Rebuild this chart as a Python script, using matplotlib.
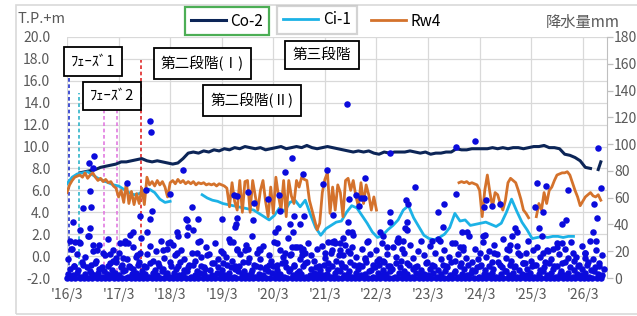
import numpy as np
import matplotlib
matplotlib.use("Agg")
import matplotlib.pyplot as plt
from matplotlib.patches import Rectangle

plt.rcParams['font.family'] = ['Noto Sans CJK JP', 'DejaVu Sans']

# ---- data ----
tick_years = [2016.17 + k for k in range(11)]
tick_labels = ["'16/3", "'17/3", "'18/3", "'19/3", "'20/3", "'21/3",
               "'22/3", "'23/3", "'24/3", "'25/3", "'26/3"]

# Co-2, sampled every 0.1 yr from 2016.42
co2_start = 2016.42
co2 = [7.6, 7.7, 7.8, 7.9, 8.1, 8.2, 8.3, 8.4, 8.6, 8.6, 8.7, 8.8, 8.9, 8.7, 8.6, 8.7,
       8.6, 8.5, 8.4, 8.5, 8.9, 9.4, 9.5, 9.4, 9.6, 9.5, 9.7, 9.6, 9.8, 9.7, 9.9, 9.8,
       10.0, 9.9, 9.8, 9.9, 9.7, 9.8, 9.9, 10.0, 9.8, 9.9, 10.0, 9.9, 10.1, 9.9, 9.8, 9.9,
       10.0, 9.9, 9.8, 9.7, 9.6, 9.5, 9.6, 9.5, 9.6, 9.4, 9.3, 9.5, 9.4, 9.5, 9.5, 9.5,
       9.6, 9.5, 9.4, 9.5, 9.3, 9.4, 9.4, 9.5, 9.5, 9.8, 9.7, 9.7, 9.8, 9.8, 9.8, 9.8,
       9.9, 9.8, 9.9, 9.8, 9.9, 9.9, 9.8, 9.9, 10.0, 10.0, 10.1, 9.9, 9.9, 9.8, 9.3, 9.2,
       9.0, 8.7, 8.1, 8.0]
co2_tail_t = [2026.47, 2026.52]
co2_tail = [7.9, 8.6]

# Ci-1, sampled every 0.1 yr, two segments
ci1_start_a = 2016.17
ci1_a = [6.6, 7.2, 7.5, 7.6, 7.7, 7.4, 7.1, 6.9, 6.7, 6.5, 6.4, 6.1, 5.8, 5.6, 5.7,
         6.0, 6.1, 5.8, 5.2, 4.9, 5.0]
ci1_start_b = 2018.79
ci1_b = [5.6, 5.3, 5.1, 5.0, 4.8, 4.7, 4.6, 4.5, 4.4, 4.3, 4.2, 3.9, 3.6, 3.3, 3.7,
         4.4, 4.1, 4.9, 5.1, 4.5, 5.1, 3.8, 2.6, 1.9, 2.5, 2.8, 3.1, 3.2, 4.0, 4.6,
         4.4, 3.7, 3.0, 2.2, 1.7, 1.9, 2.4, 2.8, 3.3, 4.2, 4.6, 3.5, 2.7, 1.9, 1.6,
         1.5, 1.7, 2.0, 2.6, 3.9, 3.2, 3.3, 2.8, 2.9, 3.0, 3.1, 2.9, 2.7, 3.0, 4.0,
         5.2, 4.1, 3.1, 2.4, 1.6, 1.7, 1.8, 1.7, 1.8, 1.8, 1.7, 1.8, 1.8]

# Rw4, sampled every 0.05 yr, three segments
rw4_start_a = 2016.17
rw4_a = [5.8, 6.5, 6.9, 7.2, 7.3, 7.4, 7.2, 7.6, 7.1, 7.4, 7.6, 7.2, 6.9, 7.1, 6.8, 7.0,
         6.7, 6.8, 6.4, 6.2, 5.4, 6.0, 4.9, 6.7, 4.8, 5.9, 4.7, 5.7, 4.8, 6.2, 4.7, 7.2,
         6.5, 6.8, 6.4, 6.9, 6.5, 6.8, 6.3, 5.4, 6.7, 6.9, 6.6, 7.0, 6.7, 6.9, 6.6, 6.8,
         6.6, 6.8, 6.5, 6.7, 6.6, 6.7, 6.5, 6.6, 6.5, 6.6, 6.4, 6.6, 6.5, 6.4, 6.2, 4.5,
         6.7, 5.0, 4.2, 6.9, 4.0, 6.8, 6.9, 4.0, 6.9, 5.5, 4.2, 6.0, 6.9, 5.0, 3.6, 6.3,
         3.9, 7.2, 5.5, 4.2, 6.9, 3.6, 6.9, 5.5, 4.8, 6.9, 6.3, 7.2, 7.0, 6.9, 5.1, 4.2,
         3.3, 2.4, 3.0, 5.8, 7.0, 7.6, 3.9, 6.3, 4.2, 6.5, 5.8, 3.6, 6.9, 7.1, 6.0, 6.9,
         5.5, 4.5, 6.7, 4.8, 6.5, 5.6, 4.2, 5.4, 4.2]
rw4_start_b = 2023.77
rw4_b = [6.7, 6.8, 6.7, 6.8, 6.6, 6.7, 6.6, 6.5, 6.0, 3.6, 6.0, 7.4, 5.8, 4.5, 5.8, 5.6,
         4.8, 4.2, 5.1, 6.7, 7.1, 6.9, 6.7, 6.0, 5.2, 4.2, 3.9, 3.5]
rw4_start_c = 2025.27
rw4_c = [3.6, 4.8, 4.2, 5.8, 4.8, 6.0, 6.3, 6.9, 7.4, 7.5, 7.6, 7.6, 7.7, 7.4, 6.7, 6.0,
         5.4, 4.6, 5.0, 5.4, 5.6, 5.8, 5.5, 5.4, 5.6, 5.1]

# rainfall (mm): low daily band, one value every 10 days from 2016.17
rain_low_start = 2016.17
rain_low = [
    0, 3, 7, 0, 2, 9, 0, 4, 6, 0, 1, 10, 0, 3, 8, 0, 5, 4, 0, 2, 11, 0, 4, 7, 0, 1, 5, 0, 3, 9, 0, 2, 6, 0, 4, 12,
    0, 2, 8, 0, 5, 6, 0, 1, 9, 0, 3, 7, 0, 4, 10, 0, 2, 5, 0, 3, 8, 0, 1, 11, 0, 4, 6, 0, 2, 9, 0, 5, 7, 0, 3, 4,
    0, 1, 9, 0, 4, 7, 0, 2, 12, 0, 3, 6, 0, 5, 8, 0, 1, 10, 0, 2, 5, 0, 4, 9, 0, 3, 7, 0, 1, 6, 0, 2, 11, 0, 4, 8,
    0, 3, 6, 0, 2, 10, 0, 4, 8, 0, 1, 7, 0, 5, 9, 0, 3, 5, 0, 2, 12, 0, 4, 6, 0, 1, 9, 0, 3, 8, 0, 2, 7, 0, 5, 10,
    0, 4, 9, 0, 2, 6, 0, 3, 11, 0, 1, 8, 0, 5, 7, 0, 2, 10, 0, 4, 5, 0, 3, 9, 0, 1, 12, 0, 2, 7, 0, 4, 8, 0, 3, 6,
    0, 2, 10, 0, 3, 7, 0, 1, 9, 0, 4, 6, 0, 5, 11, 0, 2, 8, 0, 3, 5, 0, 1, 10, 0, 4, 7, 0, 2, 9, 0, 3, 12, 0, 5, 6,
    0, 1, 8, 0, 4, 10, 0, 2, 6, 0, 3, 9, 0, 5, 7, 0, 1, 11, 0, 4, 8, 0, 2, 5, 0, 3, 10, 0, 1, 7, 0, 4, 9, 0, 2, 6,
    0, 3, 11, 0, 2, 7, 0, 4, 9, 0, 1, 6, 0, 3, 10, 0, 5, 8, 0, 2, 12, 0, 4, 5, 0, 1, 9, 0, 3, 7, 0, 2, 10, 0, 4, 6,
    0, 5, 8, 0, 1, 10, 0, 3, 6, 0, 2, 9, 0, 4, 7, 0, 1, 12, 0, 3, 8, 0, 5, 5, 0, 2, 10, 0, 4, 9, 0, 1, 6, 0, 3, 11,
    0, 2, 7, 0, 4, 9, 0, 1, 10, 0, 3, 6, 0, 5, 8, 0, 2, 11, 0, 4, 7, 0, 1, 9, 0, 3, 5, 0, 2, 12, 0, 4, 8, 0, 1, 6,
    0, 3, 9, 0, 2, 7, 0, 4, 10, 0, 1, 6, 0, 5, 8, 0, 3, 11, 0, 2, 7]

# rainfall (mm): moderate days, one value every 20 days from 2016.19
rain_mid_start = 2016.19
rain_mid = [
    14, 22, 9, 18, 27, 12, 16, 31, 10, 20, 13, 25, 8, 17, 29, 11, 21, 15,
    19, 10, 26, 14, 8, 23, 16, 12, 30, 9, 18, 24, 13, 20, 11, 28, 15, 22,
    12, 25, 17, 9, 21, 14, 32, 10, 19, 13, 27, 16, 8, 23, 18, 11, 26, 14,
    20, 11, 16, 29, 13, 9, 22, 18, 12, 25, 15, 31, 10, 19, 14, 24, 8, 17,
    13, 27, 10, 21, 16, 12, 30, 18, 9, 23, 14, 20, 11, 26, 17, 13, 22, 9,
    24, 15, 11, 19, 28, 13, 17, 9, 25, 20, 12, 32, 16, 10, 22, 14, 27, 18,
    10, 21, 14, 26, 12, 18, 9, 23, 16, 30, 13, 19, 11, 25, 15, 8, 20, 28,
    17, 12, 24, 10, 19, 29, 14, 21, 9, 16, 26, 13, 18, 11, 23, 15, 31, 12,
    22, 14, 9, 27, 16, 20, 12, 25, 18, 10, 29, 15, 21, 13, 8, 24, 17, 11,
    19, 28, 13, 10, 23, 16, 31, 12, 20, 14, 9, 26, 18, 11, 22, 15, 27, 13,
    16, 10, 24, 19, 12, 28, 14, 21, 9, 17]

# rainfall (mm): larger single events
rain_t = [2019.81, 2017.78, 2017.80, 2016.69, 2020.53, 2021.60, 2022.43, 2023.71, 2024.08, 2026.46,
          2016.60, 2016.67, 2018.42, 2020.40, 2020.74, 2021.21, 2021.13, 2021.95,
          2016.62, 2016.48, 2016.64, 2017.33, 2017.70, 2017.81, 2018.17, 2018.59, 2019.40, 2019.47,
          2017.59, 2017.78, 2018.48, 2018.71, 2019.17, 2020.28, 2020.07, 2019.68, 2019.79, 2020.30,
          2020.76, 2020.57, 2021.32, 2021.64, 2021.77, 2021.87, 2021.93, 2021.83, 2022.44, 2022.74,
          2022.91, 2022.78, 2023.71, 2023.48, 2023.36, 2024.29, 2024.25, 2024.41, 2025.28, 2025.45,
          2025.88, 2026.38, 2026.52, 2025.24, 2025.40, 2024.56,
          2016.29, 2016.42, 2016.62, 2016.59, 2016.23, 2016.32, 2016.43, 2016.27, 2016.67, 2016.75,
          2016.87, 2017.00, 2017.20, 2017.29, 2017.35, 2017.39, 2017.45, 2017.72, 2017.59, 2017.53,
          2018.03, 2018.13, 2018.17, 2018.30, 2018.32, 2018.30, 2018.50, 2018.52, 2018.61, 2018.69,
          2018.75, 2018.88, 2019.19, 2019.33, 2019.43, 2019.46, 2017.25, 2017.06,
          2019.47, 2019.77, 2020.20, 2020.26, 2020.49, 2020.69, 2020.55, 2020.24, 2019.39, 2019.62,
          2019.68, 2019.91, 2020.53, 2020.59, 2020.69, 2020.74, 2020.40, 2020.49, 2020.72, 2020.78,
          2021.62, 2021.62, 2021.69, 2021.52, 2021.23, 2021.31, 2021.36, 2021.46, 2021.31, 2021.46,
          2021.65, 2021.69, 2021.52, 2021.17, 2022.00, 2021.95, 2022.24, 2022.29, 2022.37, 2022.43,
          2022.57, 2022.58, 2022.68, 2022.66, 2022.72, 2022.29, 2022.18,
          2022.76, 2022.77, 2023.46, 2023.83, 2023.92, 2023.69, 2023.40, 2023.24, 2023.79, 2023.84,
          2024.17, 2024.23, 2024.27, 2024.45, 2024.70, 2024.79, 2024.85, 2024.89, 2024.76, 2024.91,
          2025.05, 2025.20, 2025.32, 2025.40, 2025.47, 2025.59, 2025.67, 2025.76, 2025.76, 2025.84,
          2025.98, 2026.21, 2026.22, 2026.36, 2026.42, 2026.44, 2019.45, 2019.89]
rain_mm = [141, 117, 109, 91, 90, 130, 93, 98, 102, 97,
           86, 82, 81, 79, 78, 81, 70, 75,
           65, 52, 53, 71, 66, 50, 63, 53, 62, 61,
           46, 44, 44, 44, 44, 62, 59, 64, 56, 50,
           46, 46, 47, 59, 62, 60, 60, 54, 49, 58,
           68, 55, 63, 55, 49, 58, 53, 54, 71, 69,
           66, 55, 67, 53, 49, 55,
           42, 36, 37, 31, 28, 27, 26, 22, 25, 21,
           19, 18, 26, 28, 26, 32, 34, 34, 19, 17,
           21, 26, 27, 34, 31, 19, 43, 38, 36, 19,
           28, 17, 19, 27, 38, 21, 15, 13,
           45, 43, 34, 37, 40, 40, 34, 26, 27, 21,
           22, 21, 23, 23, 23, 22, 19, 17, 17, 19,
           42, 34, 34, 30, 27, 27, 26, 26, 21, 21,
           19, 23, 17, 19, 28, 15, 34, 31, 23, 42,
           28, 27, 28, 22, 37, 13, 13,
           42, 36, 38, 34, 34, 26, 28, 28, 23, 21,
           19, 31, 32, 19, 22, 31, 37, 34, 25, 19,
           11, 21, 37, 19, 21, 22, 23, 26, 40, 43,
           19, 19, 15, 34, 28, 45, 40, 22]

# phase marker lines
phase_t = [2016.21, 2016.40, 2016.89, 2017.14, 2017.60]
phase_top = [18.0, 14.9, 14.8, 14.9, 17.9]
phase_colors = ['#2233cc', '#30b4c8', '#e27ae0', '#e27ae0', '#e02828']

# ---- figure ----
fig = plt.figure(figsize=(6.37, 3.16), dpi=100)
ax = fig.add_axes([67 / 637, 38 / 316, 540 / 637, 241 / 316])
ax2 = ax.twinx()

GRID = '#d9d9d9'
TXT = '#595959'

ax.set_xlim(2016.17, 2026.64)
ax.set_ylim(-2, 20)
ax.set_yticks(np.arange(-2, 21, 2))
ax.set_yticklabels([f'{v:.1f}' for v in np.arange(-2, 21, 2)])
ax.set_xticks(tick_years)
ax.set_xticklabels(tick_labels)
ax.grid(True, color=GRID, lw=0.9)
ax.set_axisbelow(True)
for s in ax.spines.values():
    s.set_visible(False)
ax.tick_params(axis='y', length=0, pad=12, labelsize=10, labelcolor=TXT)
ax.tick_params(axis='x', length=0, pad=7, labelsize=10, labelcolor=TXT)

ax2.set_ylim(0, 180)
ax2.set_yticks(np.arange(0, 181, 20))
for k, s in ax2.spines.items():
    s.set_visible(k == 'right')
ax2.spines['right'].set_color('#bfbfbf')
ax2.tick_params(axis='y', length=4, width=0.9, color='#bfbfbf', pad=1,
                labelsize=10, labelcolor=TXT)

# lines
NAVY = '#0c2557'
t_co2 = co2_start + 0.1 * np.arange(len(co2))
h_co2, = ax.plot(t_co2, co2, color=NAVY, lw=2.2, zorder=3)
ax.plot(co2_tail_t, co2_tail, color=NAVY, lw=2.2, zorder=3)

CYAN = '#1cb2e6'
h_ci1, = ax.plot(ci1_start_a + 0.1 * np.arange(len(ci1_a)), ci1_a, color=CYAN, lw=2.0, zorder=3)
ax.plot(ci1_start_b + 0.1 * np.arange(len(ci1_b)), ci1_b, color=CYAN, lw=2.0, zorder=3)

RW = '#d4722c'
h_rw4, = ax.plot(rw4_start_a + 0.05 * np.arange(len(rw4_a)), rw4_a, color=RW, lw=2.0, zorder=4)
ax.plot(rw4_start_b + 0.05 * np.arange(len(rw4_b)), rw4_b, color=RW, lw=2.0, zorder=4)
ax.plot(rw4_start_c + 0.05 * np.arange(len(rw4_c)), rw4_c, color=RW, lw=2.0, zorder=4)

for t, top, c in zip(phase_t, phase_top, phase_colors):
    ax.plot([t, t], [-2, top], color=c, lw=1.2, ls=(0, (2.2, 1.6)), zorder=2)

# rainfall dots
BLUE = '#0b0bdc'
t_low = rain_low_start + 10 / 365.25 * np.arange(len(rain_low))
t_mid = rain_mid_start + 20 / 365.25 * np.arange(len(rain_mid))
for tt, vv in [(t_low, rain_low), (t_mid, rain_mid), (rain_t, rain_mm)]:
    ax2.scatter(tt, vv, s=22, color=BLUE, linewidths=0, zorder=5, clip_on=False)

# axis titles
fig.text(17 / 637, 1 - 19 / 316, 'T.P.+m', ha='left', va='center', fontsize=10.5, color=TXT)
fig.text(546 / 637, 1 - 22 / 316, '降水量mm', ha='left', va='center', fontsize=11, color=TXT)

# legends: each entry in its own box
def one_legend(h, label, cx, cy, edge):
    leg = fig.legend([h], [label], loc='center', bbox_to_anchor=(cx / 637, 1 - cy / 316),
                     frameon=edge is not None, fancybox=False, fontsize=11,
                     handlelength=2.3, handletextpad=0.3, borderpad=0.38, borderaxespad=0)
    if edge is not None:
        leg.get_frame().set_edgecolor(edge)
        leg.get_frame().set_linewidth(1.6)
        leg.get_frame().set_facecolor('white')
    return leg

one_legend(h_co2, 'Co-2', 227, 21, '#1f9a2a')
one_legend(h_ci1, 'Ci-1', 317, 20, '#c8c8c8')
one_legend(h_rw4, 'Rw4', 406, 21, None)

# phase annotation boxes
boxes = [('ﾌｪｰｽﾞ1', 93, 61.5), ('ﾌｪｰｽﾞ2', 112, 96),
         ('第二段階(Ⅰ)', 202.5, 63.5), ('第二段階(Ⅱ)', 252, 100.5), ('第三段階', 322, 55)]
for s, cx, cy in boxes:
    fig.text(cx / 637, 1 - cy / 316, s, ha='center', va='center', fontsize=10.5,
             zorder=10, bbox=dict(boxstyle='square,pad=0.5', fc='white', ec='black', lw=1.3))

# chart border
fig.patches.append(Rectangle((16 / 637, 2 / 316), 1.0, 309 / 316, transform=fig.transFigure,
                             fill=False, ec='#d9d9d9', lw=1.2))

fig.savefig('out.png', dpi=100)
